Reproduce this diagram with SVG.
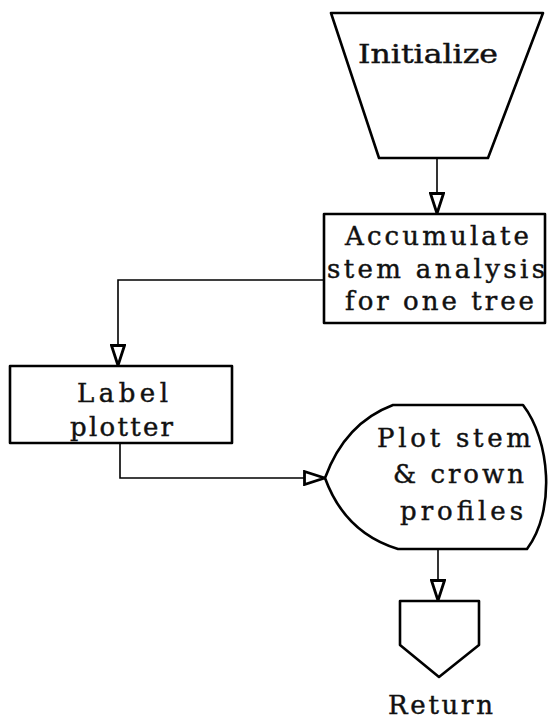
<svg xmlns="http://www.w3.org/2000/svg" width="548" height="722" viewBox="0 0 548 722">
  <style>
    .shape { fill: #fff; stroke: #000; stroke-width: 2.6; stroke-linejoin: round; }
    .conn { fill: none; stroke: #000; stroke-width: 1.6; }
    .lbl { font-family: "DejaVu Serif", "Liberation Serif", serif; font-size: 26px; fill: #111; stroke: #111; stroke-width: 0.45; }
  </style>
  <defs>
    <!-- hollow triangular arrowhead shared by all flow lines -->
    <marker id="arrow" viewBox="0 0 23 16" refX="22" refY="8" markerWidth="23" markerHeight="16" markerUnits="userSpaceOnUse" orient="auto">
      <path d="M1.5,1.5 L21.5,8 L1.5,14.5 Z" fill="#fff" stroke="#000" stroke-width="2.8" stroke-linejoin="miter"/>
    </marker>
  </defs>
  <rect width="548" height="722" fill="#fff"/>

  <g id="connectors">
    <path class="conn" d="M437,158 V214" marker-end="url(#arrow)"/>
    <path class="conn" d="M324,280 H118 V366" marker-end="url(#arrow)"/>
    <path class="conn" d="M120,443 V478 H325" marker-end="url(#arrow)"/>
    <path class="conn" d="M438,549 V601" marker-end="url(#arrow)"/>
  </g>

  <g id="initialize">
    <path class="shape" d="M331,13 H543 L488,158 H379 Z"/>
    <text class="lbl" x="358" y="63" textLength="140" lengthAdjust="spacingAndGlyphs">Initialize</text>
  </g>

  <g id="accumulate">
    <rect class="shape" x="324" y="214" width="221" height="109"/>
    <text class="lbl" x="345" y="245" textLength="184" lengthAdjust="spacing">Accumulate</text>
    <text class="lbl" x="327" y="278" textLength="218" lengthAdjust="spacing">stem analysis</text>
    <text class="lbl" x="345" y="310" textLength="189" lengthAdjust="spacing">for one tree</text>
  </g>

  <g id="label-plotter">
    <rect class="shape" x="10" y="366" width="222" height="77"/>
    <text class="lbl" x="77" y="402" textLength="91" lengthAdjust="spacing">Label</text>
    <text class="lbl" x="70" y="436" textLength="103" lengthAdjust="spacing">plotter</text>
  </g>

  <g id="plot-profiles">
    <path class="shape" d="M325,478 Q345,423 393,405 H523 C550,440 556,510 527,549 H398 Q345,533 325,478 Z"/>
    <text class="lbl" x="377" y="447" textLength="154" lengthAdjust="spacing">Plot stem</text>
    <text class="lbl" x="393" y="483" textLength="131" lengthAdjust="spacing">&amp; crown</text>
    <text class="lbl" x="400" y="520" textLength="123" lengthAdjust="spacing">profiles</text>
  </g>

  <g id="return">
    <path class="shape" d="M400,601 H479 V645 L439,677 L400,645 Z"/>
    <text class="lbl" x="388" y="714" textLength="105" lengthAdjust="spacing">Return</text>
  </g>
</svg>
